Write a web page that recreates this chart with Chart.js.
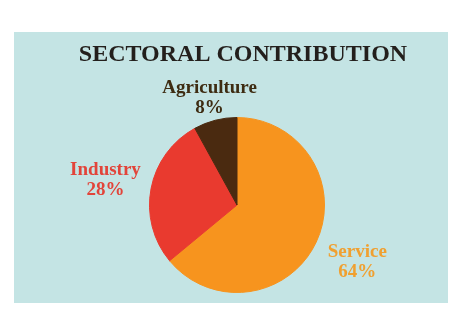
<!DOCTYPE html>
<html>
<head>
<meta charset="utf-8">
<script src="https://cdn.jsdelivr.net/npm/chart.js@4"></script>
<style>
    html, body { margin: 0; padding: 0; background: #ffffff; }
    #wrap { position: relative; width: 467px; height: 320px; }
</style>
</head>
<body>
<div id="wrap"><canvas id="sectorChart" width="467" height="320"></canvas></div>
<script>
// Data
const sectors = ['Service', 'Industry', 'Agriculture'];
const shares = [64, 28, 8];
const sliceColors = ['#f7941e', '#e93a2f', '#4a2a10'];
const labelColors = ['#f0a030', '#e2443a', '#3e2c12'];
const chartTitle = 'SECTORAL CONTRIBUTION';

// Light blue panel behind the chart, title, and slice labels
const panelAndLabels = {
    id: 'panelAndLabels',
    beforeDraw(chart) {
        const ctx = chart.ctx;
        ctx.save();
        ctx.fillStyle = '#c4e4e4';
        ctx.fillRect(14, 32, 434, 271);
        ctx.restore();
    },
    afterDatasetsDraw(chart) {
        const ctx = chart.ctx;
        ctx.save();
        ctx.textAlign = 'center';
        ctx.textBaseline = 'middle';
        ctx.fillStyle = '#231f1c';
        ctx.font = 'bold 24px "Liberation Serif", serif';
        ctx.fillText(chartTitle, 243, 55);

        // distance of label centre from pie centre, in radii
        const labelDist = [1.52, 1.53, 1.26];
        const meta = chart.getDatasetMeta(0);
        meta.data.forEach((arc, i) => {
            const p = arc.getProps(['x', 'y', 'startAngle', 'endAngle', 'outerRadius'], true);
            const mid = (p.startAngle + p.endAngle) / 2;
            const r = p.outerRadius * labelDist[i];
            const x = p.x + Math.cos(mid) * r;
            const y = p.y + Math.sin(mid) * r;
            ctx.fillStyle = labelColors[i];
            ctx.font = 'bold 19px "Liberation Serif", serif';
            ctx.fillText(sectors[i], x, y - 10);
            ctx.fillText(shares[i] + '%', x, y + 10);
        });
        ctx.restore();
    }
};

new Chart(document.getElementById('sectorChart'), {
    type: 'pie',
    data: {
        labels: sectors,
        datasets: [{
            data: shares,
            backgroundColor: sliceColors,
            borderColor: sliceColors,
            borderWidth: 1
        }]
    },
    options: {
        responsive: false,
        animation: false,
        layout: {
            padding: { top: 117, bottom: 27, left: 149, right: 142 }
        },
        plugins: {
            legend: { display: false },
            tooltip: { enabled: false },
            title: { display: false }
        }
    },
    plugins: [panelAndLabels]
});
</script>
</body>
</html>
